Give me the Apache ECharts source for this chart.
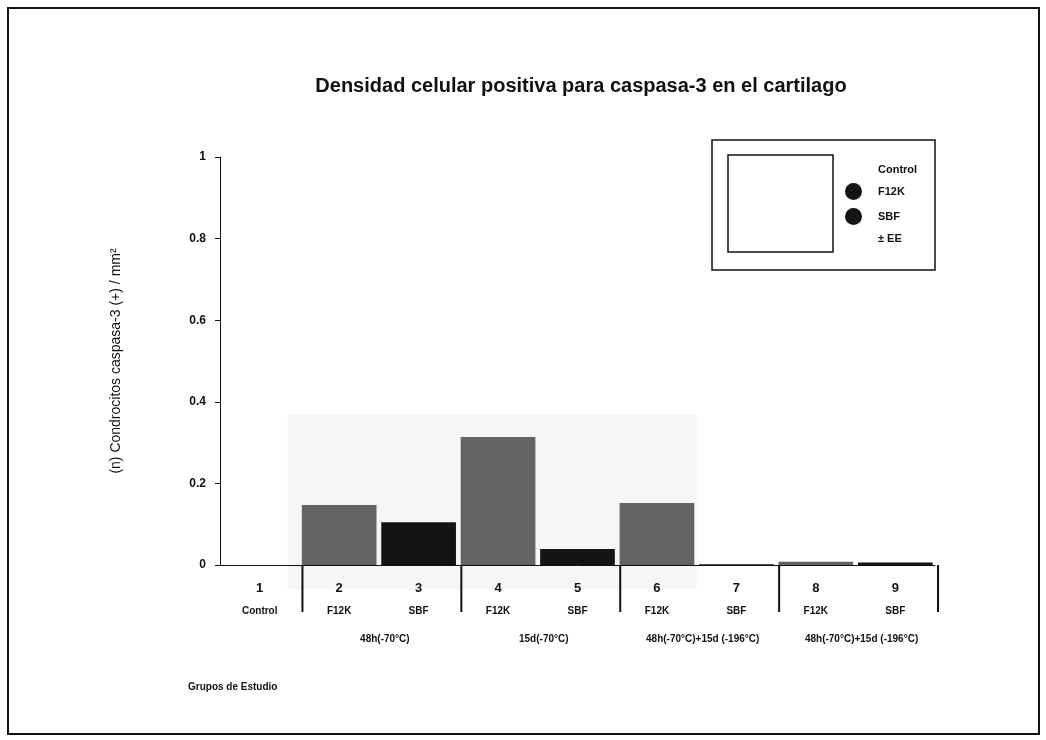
<!DOCTYPE html>
<html>
<head>
<meta charset="utf-8">
<title>Densidad celular positiva para caspasa-3</title>
<script src="https://cdn.jsdelivr.net/npm/echarts@6/dist/echarts.min.js"></script>
<style>
  html, body { margin: 0; padding: 0; background: #fff; }
  #chart { width: 1046px; height: 740px; }
</style>
</head>
<body>
<div id="chart"></div>
<script>
// Study groups on the x axis
const categories = ['1', '2', '3', '4', '5', '6', '7', '8', '9'];
const subLabels = ['Control', 'F12K', 'SBF', 'F12K', 'SBF', 'F12K', 'SBF', 'F12K', 'SBF'];

// Caspase-3 positive chondrocytes per mm² (one value per group, '-' = not in this series)
const controlValues = [0, '-', '-', '-', '-', '-', '-', '-', '-'];
const f12kValues    = ['-', 0.147, '-', 0.314, '-', 0.152, '-', 0.008, '-'];
const sbfValues     = ['-', '-', 0.105, '-', 0.039, '-', 0.002, '-', 0.006];

// Treatment condition labels under each F12K/SBF pair (first and last category index)
const groupLabels = ['48h(-70°C)', '15d(-70°C)', '48h(-70°C)+15d (-196°C)', '48h(-70°C)+15d (-196°C)'];
const groupFirst  = [1, 3, 5, 7];
const groupLast   = [2, 4, 6, 8];

// Group separators sit before these category indices (9 = right end)
const separatorsBefore = [1, 3, 5, 7, 9];

const yMin = 0, yMax = 1, yStep = 0.2;

const FONT = '"Liberation Sans", Arial, sans-serif';
const GRAY = '#646464';
const BLACK = '#141414';

const chart = echarts.init(document.getElementById('chart'));

const option = {
  backgroundColor: '#ffffff',
  animation: false,
  title: {
    text: 'Densidad celular positiva para caspasa-3 en el cartilago',
    left: 576,
    textAlign: 'center',
    top: 71,
    textStyle: { fontFamily: FONT, fontSize: 20, fontWeight: 'bold', color: '#111' }
  },
  legend: {
    orient: 'vertical',
    left: 840,
    top: 156,
    itemWidth: 17,
    itemHeight: 17,
    itemGap: 8,
    selectedMode: false,
    textStyle: { fontFamily: FONT, fontSize: 11, fontWeight: 'bold', color: '#111', padding: [0, 0, 0, 11] },
    data: [
      { name: 'Control', icon: 'none' },
      { name: 'F12K', icon: 'circle', itemStyle: { color: BLACK } },
      { name: 'SBF', icon: 'circle', itemStyle: { color: BLACK } }
    ]
  },
  grid: { left: 220, right: 111, top: 157, bottom: 175 },
  xAxis: {
    type: 'category',
    data: categories,
    boundaryGap: true,
    axisLine: { lineStyle: { color: '#111', width: 1 } },
    axisTick: { show: false },
    axisLabel: {
      margin: 11,
      interval: 0,
      formatter: (v, i) => '{n|' + v + '}\n{s|' + subLabels[i] + '}',
      rich: {
        n: { fontFamily: FONT, fontSize: 13, fontWeight: 'bold', color: '#111', lineHeight: 24, align: 'center' },
        s: { fontFamily: FONT, fontSize: 10, fontWeight: 'bold', color: '#111', lineHeight: 22, align: 'center' }
      }
    }
  },
  yAxis: {
    type: 'value',
    min: yMin,
    max: yMax,
    interval: yStep,
    name: '(n) Condrocitos caspasa-3 (+) / mm²',
    nameLocation: 'middle',
    nameGap: 97,
    nameTextStyle: { fontFamily: FONT, fontSize: 14, color: '#111' },
    splitLine: { show: false },
    axisLine: { show: true, lineStyle: { color: '#111', width: 1 } },
    axisTick: { show: true, length: 5, lineStyle: { color: '#111' } },
    axisLabel: {
      margin: 14,
      fontFamily: FONT,
      fontSize: 12,
      fontWeight: 'bold',
      color: '#111',
      formatter: v => (v === 0 || v === 1) ? String(v) : v.toFixed(1)
    }
  },
  series: [
    {
      name: 'Control', type: 'bar', stack: 'g', barWidth: '94%',
      itemStyle: { color: BLACK }, data: controlValues
    },
    {
      name: 'F12K', type: 'bar', stack: 'g', barWidth: '94%',
      itemStyle: { color: GRAY }, data: f12kValues
    },
    {
      name: 'SBF', type: 'bar', stack: 'g', barWidth: '94%',
      itemStyle: { color: BLACK }, data: sbfValues
    }
  ]
};

chart.setOption(option);

// Decorations placed from the axis scales: separators and treatment labels
function buildGraphics() {
  const x0 = chart.convertToPixel({ xAxisIndex: 0 }, 0);
  const x1 = chart.convertToPixel({ xAxisIndex: 0 }, 1);
  const step = x1 - x0;
  const yZero = chart.convertToPixel({ yAxisIndex: 0 }, 0);
  const els = [];

  // page frame
  els.push({
    type: 'rect', shape: { x: 8, y: 8, width: 1031, height: 726 },
    style: { fill: null, stroke: '#111', lineWidth: 2 }, silent: true, z: 0
  });

  // faint grey panel behind the first treatment groups
  els.push({
    type: 'rect', shape: { x: x0 + 0.35 * step, y: 415, width: 5.15 * step, height: 175 },
    style: { fill: '#f6f6f6' }, silent: true, z: -10
  });

  // legend frame and swatch square
  els.push({
    type: 'rect', shape: { x: 712, y: 140, width: 223, height: 130 },
    style: { fill: null, stroke: '#111', lineWidth: 1.5 }, silent: true
  });
  els.push({
    type: 'rect', shape: { x: 728, y: 155, width: 105, height: 97 },
    style: { fill: null, stroke: '#111', lineWidth: 1.5 }, silent: true
  });
  els.push({
    type: 'text', left: 878, top: 233,
    style: { text: '± EE', fontFamily: FONT, fontSize: 11, fontWeight: 'bold', fill: '#111' }
  });

  // separators between treatment groups
  separatorsBefore.forEach(ci => {
    const x = x0 + (ci - 0.5) * step + 3;
    els.push({
      type: 'line', shape: { x1: x, y1: yZero, x2: x, y2: yZero + 47 },
      style: { stroke: '#111', lineWidth: 2 }, silent: true
    });
  });

  // treatment labels
  groupLabels.forEach((lab, k) => {
    const xa = chart.convertToPixel({ xAxisIndex: 0 }, groupFirst[k]);
    const xb = chart.convertToPixel({ xAxisIndex: 0 }, groupLast[k]);
    els.push({
      type: 'text', x: (xa + xb) / 2 + 6, y: yZero + 74,
      style: {
        text: lab, fontFamily: FONT, fontSize: 10, fontWeight: 'bold', fill: '#111',
        textAlign: 'center', textVerticalAlign: 'middle'
      }
    });
  });

  // x axis title
  els.push({
    type: 'text', left: 188, top: 682,
    style: { text: 'Grupos de Estudio', fontFamily: FONT, fontSize: 10, fontWeight: 'bold', fill: '#111' }
  });

  chart.setOption({ graphic: els });
}

buildGraphics();
</script>
</body>
</html>
